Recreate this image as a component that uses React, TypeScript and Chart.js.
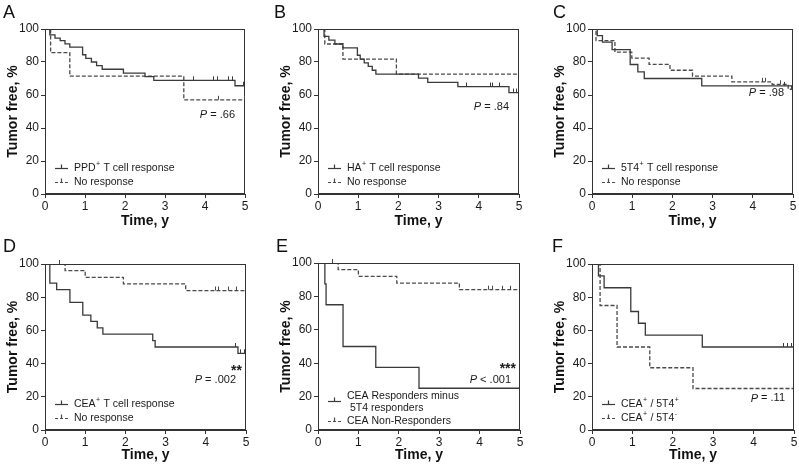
import React, { useEffect, useRef } from "react";
import { Chart, registerables } from "chart.js";
Chart.register(...registerables);

const FONT = '"Liberation Sans", Arial, Helvetica, sans-serif';
const SOLID_COLOR = "#3a3a3a";
const DASH_COLOR = "#4a4a4a";
const FRAME_COLOR = "#333333";
const TEXT_COLOR = "#1a1a1a";

// shared axes
const xTickValues = [0, 1, 2, 3, 4, 5];
const yTickValues = [0, 20, 40, 60, 80, 100];
const xTitle = "Time, y";
const yTitle = "Tumor free, %";

// Panel A
const aPosTime = [0, 0.12, 0.25, 0.38, 0.5, 0.62, 0.94, 1.02, 1.16, 1.29, 1.43, 1.96, 2.5, 2.72, 4.75, 5];
const aPosSurv = [100, 96.5, 94.5, 93, 91, 89, 84.4, 82.2, 80, 77.8, 75.6, 73.3, 71.1, 68.9, 65.6, 65.6];
const aPosCensor = [3.69, 4.2, 4.29, 4.58, 4.67, 4.95];
const aNegTime = [0, 0.14, 0.62, 3.47, 5];
const aNegSurv = [100, 85.7, 71.4, 57.1, 57.1];
const aNegCensor = [4.33, 4.97];
const aLegend = ["PPD⁺ T cell response", "No response"];
const aP = ["P", " = .66"];

// Panel B
const bPosTime = [0, 0.15, 0.27, 0.42, 0.62, 0.98, 1.05, 1.15, 1.25, 1.35, 1.44, 2.5, 2.73, 3.48, 4.75, 5];
const bPosSurv = [100, 95.5, 93.2, 90.9, 88.6, 84.1, 81.8, 79.5, 77.3, 75, 72.7, 70.2, 67.7, 65.1, 61.5, 61.5];
const bPosCensor = [3.67, 4.27, 4.34, 4.5, 4.86, 4.93];
const bNegTime = [0, 0.17, 0.62, 1.95, 5];
const bNegSurv = [100, 90.9, 81.8, 72.7, 72.7];
const bNegCensor: number[] = [];
const bLegend = ["HA⁺ T cell response", "No response"];
const bP = ["P", " = .84"];

// Panel C
const cPosTime = [0, 0.13, 0.26, 0.5, 0.95, 1.14, 1.3, 2.73, 5];
const cPosSurv = [100, 96, 92, 87.5, 78.5, 74, 70, 65.5, 65.5];
const cPosCensor = [4.78];
const cNegTime = [0, 0.1, 0.57, 0.99, 1.42, 1.94, 2.5, 3.48, 4.48, 4.88, 5];
const cNegSurv = [100, 93, 86, 82.3, 78.6, 75, 71.5, 68, 66.5, 63.5, 63.5];
const cNegCensor = [4.22, 4.3, 4.68, 4.95];
const cLegend = ["5T4⁺ T cell response", "No response"];
const cP = ["P", " = .98"];

// Panel D
const dPosTime = [0, 0.12, 0.29, 0.62, 0.94, 1.14, 1.3, 1.44, 2.68, 2.74, 4.8, 5];
const dPosSurv = [100, 88.5, 84.6, 76.9, 69.2, 65.4, 61.5, 57.7, 53.8, 50, 46.2, 46.2];
const dPosCensor = [4.72, 4.86, 4.95];
const dNegTime = [0, 0.5, 1.0, 1.95, 3.5, 5];
const dNegSurv = [100, 96, 92, 88, 84, 84];
const dNegCensor = [0.35, 4.22, 4.3, 4.55, 4.75];
const dLegend = ["CEA⁺ T cell response", "No response"];
const dP = ["P", " = .002"];
const dStars = "**";

// Panel E
const ePosTime = [0, 0.17, 0.2, 0.62, 1.43, 2.5, 5];
const ePosSurv = [100, 87.5, 75, 50, 37.5, 25, 25];
const ePosCensor: number[] = [];
const eNegTime = [0, 0.5, 1.0, 1.95, 3.5, 5];
const eNegSurv = [100, 96, 92, 88, 84, 84];
const eNegCensor = [0.35, 4.22, 4.3, 4.55, 4.75];
const eLegend = ["CEA Responders minus", " 5T4 responders", "CEA Non-Responders"];
const eP = ["P", " < .001"];
const eStars = "***";

// Panel F
const fPosTime = [0, 0.16, 0.3, 0.96, 1.15, 1.32, 2.73, 5];
const fPosSurv = [100, 92.9, 85.7, 71.4, 64.3, 57.1, 50, 50];
const fPosCensor = [4.72, 4.82, 4.92];
const fNegTime = [0, 0.2, 0.62, 1.43, 2.5, 5];
const fNegSurv = [100, 75, 50, 37.5, 25, 25];
const fNegCensor: number[] = [];
const fLegend = ["CEA⁺ / 5T4⁺", "CEA⁺ / 5T4⁻"];
const fP = ["P", " = .11"];

type Curve = { t: number[]; v: number[]; censor: number[] };
type Panel = {
  letter: string;
  left: number;
  top: number;
  width: number;
  height: number;
  padLeft: number;
  padRight: number;
  padTop: number;
  axisH: number;
  letterX: number;
  pos: Curve;
  neg: Curve;
  legend: string[];
  twoLine?: boolean;
  pText: string[];
  pVal: number;
  pRight: number;
  stars?: string;
  starsVal?: number;
};

const panels: Panel[] = [
  { letter: "A", left: 0, top: 0, width: 266, height: 234, padLeft: 0, padRight: 21, padTop: 29, axisH: 40, letterX: 3,
    pos: { t: aPosTime, v: aPosSurv, censor: aPosCensor }, neg: { t: aNegTime, v: aNegSurv, censor: aNegCensor },
    legend: aLegend, pText: aP, pVal: 48, pRight: 10 },
  { letter: "B", left: 266, top: 0, width: 266, height: 234, padLeft: 7, padRight: 13, padTop: 29, axisH: 40, letterX: 8,
    pos: { t: bPosTime, v: bPosSurv, censor: bPosCensor }, neg: { t: bNegTime, v: bNegSurv, censor: bNegCensor },
    legend: bLegend, pText: bP, pVal: 53, pRight: 10 },
  { letter: "C", left: 532, top: 0, width: 267, height: 234, padLeft: 15, padRight: 6, padTop: 29, axisH: 40, letterX: 21,
    pos: { t: cPosTime, v: cPosSurv, censor: cPosCensor }, neg: { t: cNegTime, v: cNegSurv, censor: cNegCensor },
    legend: cLegend, pText: cP, pVal: 61, pRight: 9 },
  { letter: "D", left: 0, top: 234, width: 266, height: 234, padLeft: 0, padRight: 20, padTop: 30, axisH: 38, letterX: 3,
    pos: { t: dPosTime, v: dPosSurv, censor: dPosCensor }, neg: { t: dNegTime, v: dNegSurv, censor: dNegCensor },
    legend: dLegend, pText: dP, pVal: 30, pRight: 10, stars: dStars, starsVal: 37 },
  { letter: "E", left: 266, top: 234, width: 266, height: 234, padLeft: 7, padRight: 12, padTop: 29, axisH: 38, letterX: 10,
    pos: { t: ePosTime, v: ePosSurv, censor: ePosCensor }, neg: { t: eNegTime, v: eNegSurv, censor: eNegCensor },
    legend: eLegend, twoLine: true, pText: eP, pVal: 30, pRight: 9, stars: eStars, starsVal: 38 },
  { letter: "F", left: 532, top: 234, width: 267, height: 234, padLeft: 15, padRight: 5, padTop: 30, axisH: 38, letterX: 20,
    pos: { t: fPosTime, v: fPosSurv, censor: fPosCensor }, neg: { t: fNegTime, v: fNegSurv, censor: fNegCensor },
    legend: fLegend, pText: fP, pVal: 19, pRight: 9 },
];

function valueAt(c: Curve, time: number) {
  let val = c.v[0];
  for (let i = 0; i < c.t.length; i++) if (c.t[i] <= time) val = c.v[i];
  return val;
}

function drawRich(ctx: CanvasRenderingContext2D, text: string, x: number, y: number, size: number) {
  const parts = text.split(/([⁺⁻])/);
  let cx = x;
  for (const part of parts) {
    if (!part) continue;
    if (part === "⁺" || part === "⁻") {
      ctx.font = `${Math.round(size * 0.62)}px ${FONT}`;
      const s = part === "⁺" ? "+" : "-";
      ctx.fillText(s, cx + 0.5, y - size * 0.33);
      cx += ctx.measureText(s).width + 0.8;
    } else {
      ctx.font = `${size}px ${FONT}`;
      ctx.fillText(part, cx, y);
      cx += ctx.measureText(part).width;
    }
  }
}

function legendSample(ctx: CanvasRenderingContext2D, x: number, y: number, dashed: boolean) {
  ctx.strokeStyle = dashed ? DASH_COLOR : SOLID_COLOR;
  ctx.lineWidth = 1.2;
  ctx.setLineDash(dashed ? [3, 2] : []);
  ctx.beginPath();
  ctx.moveTo(x, y + 0.5);
  ctx.lineTo(x + 13, y + 0.5);
  ctx.stroke();
  ctx.setLineDash([]);
  ctx.beginPath();
  ctx.moveTo(x + 6.5, y + 0.5);
  ctx.lineTo(x + 6.5, y - 3.5);
  ctx.stroke();
}

function makePlugin(p: Panel) {
  return {
    id: "km" + p.letter,
    afterDraw(chart: any) {
      const { ctx, chartArea: ca, scales } = chart;
      const xs = scales.x;
      const ys = scales.y;
      ctx.save();
      // frame
      ctx.strokeStyle = FRAME_COLOR;
      ctx.lineWidth = 1;
      ctx.setLineDash([]);
      const l = Math.round(ca.left) + 0.5;
      const r = Math.round(ca.right) - 0.5;
      const t = Math.round(ca.top) + 0.5;
      const b = Math.round(ca.bottom) - 0.5;
      ctx.strokeRect(l, t, r - l, b - t);
      // censor ticks
      const drawCensor = (c: Curve, color: string) => {
        ctx.strokeStyle = color;
        ctx.lineWidth = 1;
        for (const ct of c.censor) {
          const px = Math.round(xs.getPixelForValue(ct)) + 0.5;
          const py = ys.getPixelForValue(valueAt(c, ct));
          ctx.beginPath();
          ctx.moveTo(px, py);
          ctx.lineTo(px, py - 4);
          ctx.stroke();
        }
      };
      drawCensor(p.pos, SOLID_COLOR);
      drawCensor(p.neg, DASH_COLOR);
      // legend
      ctx.fillStyle = TEXT_COLOR;
      ctx.textBaseline = "middle";
      ctx.textAlign = "left";
      const lx = ca.left + 10;
      const tx = ca.left + 29;
      const lsize = 10.5;
      if (p.twoLine) {
        const base = ca.bottom;
        legendSample(ctx, lx, Math.round(base - 29), false);
        legendSample(ctx, lx, Math.round(base - 9), true);
        drawRich(ctx, p.legend[0], tx, base - 34, lsize);
        drawRich(ctx, p.legend[1], tx, base - 22, lsize);
        drawRich(ctx, p.legend[2], tx, base - 9, lsize);
      } else {
        const base = ca.bottom;
        legendSample(ctx, lx, Math.round(base - 26), false);
        legendSample(ctx, lx, Math.round(base - 12), true);
        drawRich(ctx, p.legend[0], tx, base - 26, lsize);
        drawRich(ctx, p.legend[1], tx, base - 12, lsize);
      }
      // P value
      const psize = 11;
      ctx.font = `italic ${psize}px ${FONT}`;
      const w1 = ctx.measureText(p.pText[0]).width;
      ctx.font = `${psize}px ${FONT}`;
      const w2 = ctx.measureText(p.pText[1]).width;
      const pr = ca.right - p.pRight;
      const py = ys.getPixelForValue(p.pVal);
      ctx.font = `italic ${psize}px ${FONT}`;
      ctx.fillText(p.pText[0], pr - w1 - w2, py);
      ctx.font = `${psize}px ${FONT}`;
      ctx.fillText(p.pText[1], pr - w2, py);
      if (p.stars) {
        ctx.font = `bold 14px ${FONT}`;
        ctx.textAlign = "right";
        ctx.fillText(p.stars, ca.right - 4, ys.getPixelForValue(p.starsVal) + 3);
      }
      // panel letter
      ctx.textAlign = "left";
      ctx.textBaseline = "alphabetic";
      ctx.font = `18px ${FONT}`;
      ctx.fillStyle = "#111";
      ctx.fillText(p.letter, p.letterX, 18);
      ctx.restore();
    },
  };
}

function PanelChart({ p }: { p: Panel }) {
  const ref = useRef<HTMLCanvasElement | null>(null);
  useEffect(() => {
    if (!ref.current) return;
    const tickFont = { family: FONT, size: 12 };
    const titleFont = { family: FONT, size: 14, weight: "bold" as const };
    const chart = new Chart(ref.current, {
      type: "line",
      data: {
        datasets: [
          {
            data: p.pos.t.map((x, i) => ({ x, y: p.pos.v[i] })),
            stepped: "before",
            borderColor: SOLID_COLOR,
            borderWidth: 1.3,
            pointRadius: 0,
            fill: false,
          },
          {
            data: p.neg.t.map((x, i) => ({ x, y: p.neg.v[i] })),
            stepped: "before",
            borderColor: DASH_COLOR,
            borderWidth: 1.3,
            borderDash: [4, 2],
            pointRadius: 0,
            fill: false,
          },
        ],
      },
      options: {
        animation: false,
        responsive: false,
        maintainAspectRatio: false,
        events: [],
        layout: { padding: { left: p.padLeft, right: p.padRight, top: p.padTop, bottom: 0 } },
        plugins: { legend: { display: false }, tooltip: { enabled: false }, title: { display: false } },
        scales: {
          x: {
            type: "linear",
            min: 0,
            max: 5,
            afterBuildTicks: (s: any) => {
              s.ticks = xTickValues.map((v) => ({ value: v }));
            },
            afterFit: (s: any) => {
              s.height = p.axisH;
            },
            ticks: { font: tickFont, color: TEXT_COLOR, padding: 1, maxRotation: 0 },
            grid: { drawOnChartArea: false, drawTicks: true, tickLength: 4, color: FRAME_COLOR },
            border: { display: true, color: FRAME_COLOR, width: 1 },
            title: { display: true, text: xTitle, font: titleFont, color: "#111", padding: { top: 0, bottom: 4 } },
          },
          y: {
            type: "linear",
            min: 0,
            max: 100,
            afterBuildTicks: (s: any) => {
              s.ticks = yTickValues.map((v) => ({ value: v }));
            },
            afterFit: (s: any) => {
              s.width = 45;
            },
            ticks: { font: tickFont, color: TEXT_COLOR, padding: 2 },
            grid: { drawOnChartArea: false, drawTicks: true, tickLength: 4, color: FRAME_COLOR },
            border: { display: true, color: FRAME_COLOR, width: 1 },
            title: { display: true, text: yTitle, font: titleFont, color: "#111", padding: { top: 5, bottom: 0 } },
          },
        },
      } as any,
      plugins: [makePlugin(p)],
    });
    return () => chart.destroy();
  }, [p]);
  return (
    <canvas
      ref={ref}
      width={p.width}
      height={p.height}
      style={{ position: "absolute", left: p.left, top: p.top, width: p.width, height: p.height }}
    />
  );
}

export default function App() {
  return (
    <div style={{ position: "absolute", left: 0, top: 0, width: 799, height: 468, background: "#fff", overflow: "hidden" }}>
      {panels.map((p) => (
        <PanelChart key={p.letter} p={p} />
      ))}
    </div>
  );
}
